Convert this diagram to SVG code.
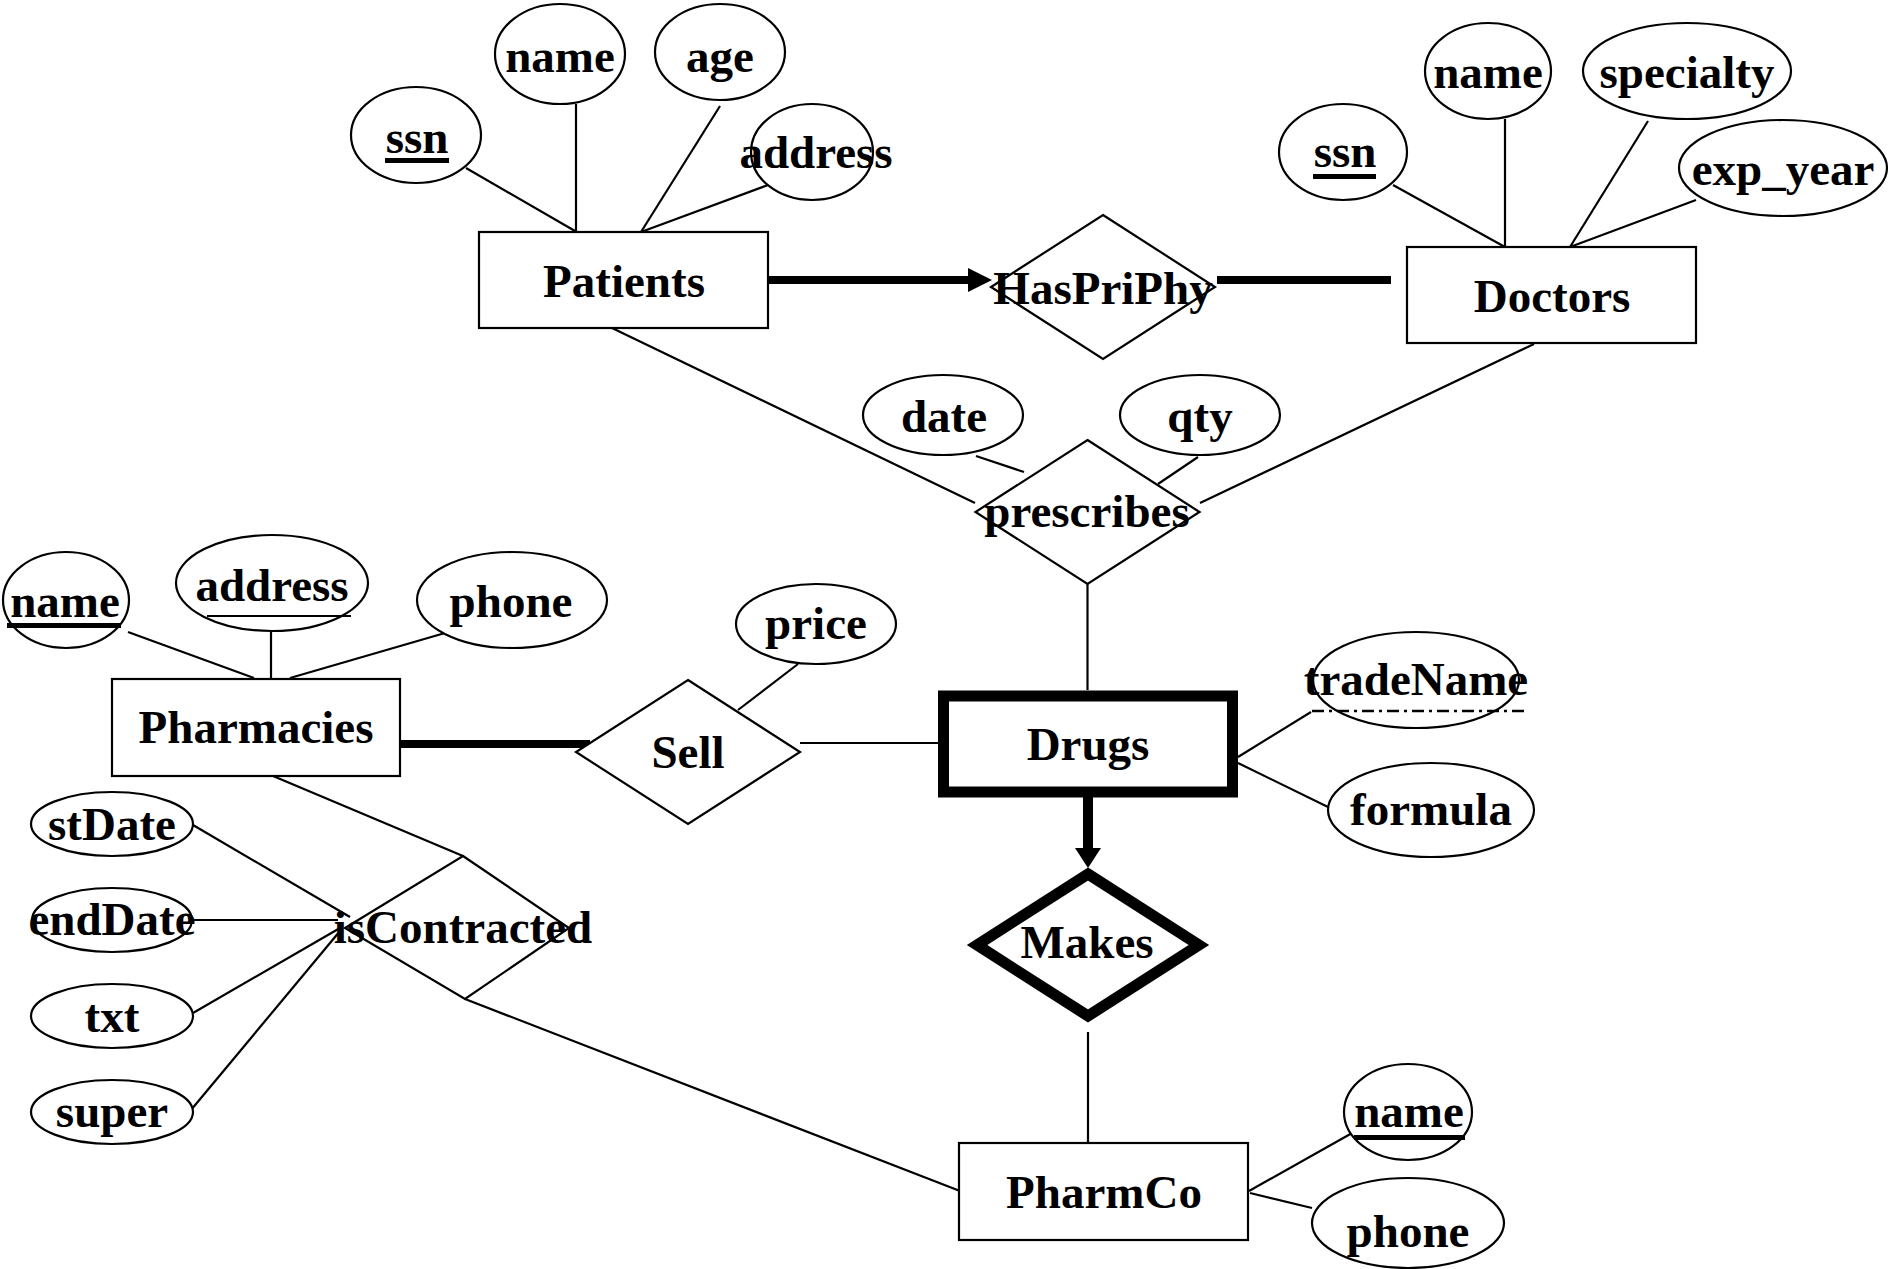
<svg xmlns="http://www.w3.org/2000/svg" width="1890" height="1269" viewBox="0 0 1890 1269">
  <style>
    text { font-family: "Liberation Serif", "Times New Roman", serif; font-weight: bold; font-size: 47px; fill: #000; text-anchor: middle; }
    .shape { fill: #fff; stroke: #000; stroke-width: 2.2; }
    .weak { fill: #fff; stroke: #000; stroke-width: 11; stroke-linejoin: miter; }
    .link { stroke: #000; stroke-width: 2.2; fill: none; }
    .thick { stroke: #000; stroke-width: 8; fill: none; }
    .key { stroke: #000; stroke-width: 5; }
    .partial { stroke: #000; stroke-width: 2.5; stroke-dasharray: 12 5 3 5; }
    .thin-key { stroke: #000; stroke-width: 2; }
  </style>
  <rect x="0" y="0" width="1890" height="1269" fill="#fff"/>

  <!-- connectors -->
  <g id="connectors">
    <!-- Patients attributes -->
    <line class="link" x1="466" y1="168" x2="575" y2="231"/>
    <line class="link" x1="576" y1="104" x2="576" y2="232"/>
    <line class="link" x1="720" y1="106" x2="641" y2="232"/>
    <line class="link" x1="768" y1="185" x2="641" y2="232"/>
    <!-- Doctors attributes -->
    <line class="link" x1="1393" y1="185" x2="1505" y2="247"/>
    <line class="link" x1="1505" y1="119" x2="1505" y2="247"/>
    <line class="link" x1="1648" y1="121" x2="1570" y2="247"/>
    <line class="link" x1="1696" y1="200" x2="1570" y2="247"/>
    <!-- HasPriPhy -->
    <line class="thick" x1="768" y1="280" x2="970" y2="280"/>
    <polygon points="968,268 992,280 968,292" fill="#000"/>
    <line class="thick" x1="1217" y1="280" x2="1391" y2="280"/>
    <!-- prescribes -->
    <line class="link" x1="612" y1="328" x2="975" y2="503"/>
    <line class="link" x1="1534" y1="344" x2="1200" y2="503"/>
    <line class="link" x1="976" y1="456" x2="1024" y2="472"/>
    <line class="link" x1="1198" y1="457" x2="1158" y2="484"/>
    <line class="link" x1="1087.5" y1="584" x2="1087.5" y2="690"/>
    <!-- Drugs attributes -->
    <line class="link" x1="1238" y1="757" x2="1311" y2="712"/>
    <line class="link" x1="1238" y1="763" x2="1328" y2="807"/>
    <!-- Makes -->
    <line stroke="#000" stroke-width="10" x1="1088" y1="797" x2="1088" y2="850"/>
    <polygon points="1075,848 1101,848 1088,868" fill="#000"/>
    <line class="link" x1="1088" y1="1032" x2="1088" y2="1143"/>
    <!-- PharmCo attributes -->
    <line class="link" x1="1249" y1="1191" x2="1361" y2="1128"/>
    <line class="link" x1="1250" y1="1193" x2="1312" y2="1208"/>
    <!-- Pharmacies attributes -->
    <line class="link" x1="128" y1="632" x2="254" y2="678"/>
    <line class="link" x1="271" y1="632" x2="271" y2="678"/>
    <line class="link" x1="445" y1="633" x2="290" y2="678"/>
    <!-- Sell -->
    <line class="thick" x1="400" y1="744" x2="590" y2="744"/>
    <line class="link" x1="800" y1="743" x2="939" y2="743"/>
    <line class="link" x1="798" y1="664" x2="738" y2="710"/>
    <!-- isContracted -->
    <line class="link" x1="273" y1="776" x2="463" y2="856"/>
    <line class="link" x1="465" y1="999" x2="960" y2="1191"/>
    <line class="link" x1="193" y1="825" x2="350" y2="917"/>
    <line class="link" x1="193" y1="920" x2="338" y2="920"/>
    <line class="link" x1="193" y1="1013" x2="340" y2="928"/>
    <line class="link" x1="191" y1="1110" x2="340" y2="931"/>
  </g>

  <!-- entities -->
  <g id="patients">
    <rect class="shape" x="479" y="232" width="289" height="96"/>
    <text x="624" y="297">Patients</text>
  </g>
  <g id="doctors">
    <rect class="shape" x="1407" y="247" width="289" height="96"/>
    <text x="1552" y="312">Doctors</text>
  </g>
  <g id="drugs">
    <rect class="weak" x="943.5" y="696" width="289" height="96"/>
    <text x="1088" y="760">Drugs</text>
  </g>
  <g id="pharmacies">
    <rect class="shape" x="112" y="679" width="288" height="97"/>
    <text x="256" y="743">Pharmacies</text>
  </g>
  <g id="pharmco">
    <rect class="shape" x="959" y="1143" width="289" height="97"/>
    <text x="1104" y="1208">PharmCo</text>
  </g>

  <!-- relationships -->
  <g id="haspriphy">
    <polygon class="shape" points="1103,215 1215,287 1103,359 991,287"/>
    <text x="1103" y="304">HasPriPhy</text>
  </g>
  <g id="prescribes">
    <polygon class="shape" points="1087.5,440 1199.5,512 1087.5,584 975.5,512"/>
    <text x="1087" y="527">prescribes</text>
  </g>
  <g id="sell">
    <polygon class="shape" points="688,680 800,752 688,824 576,752"/>
    <text x="688" y="768">Sell</text>
  </g>
  <g id="makes">
    <polygon class="weak" points="1088,874 1199,945 1088,1016 977,945"/>
    <text x="1087" y="958">Makes</text>
  </g>
  <g id="iscontracted">
    <polygon class="shape" points="463,856 569,928 465,999 345,928"/>
    <text x="463" y="943">isContracted</text>
  </g>

  <!-- attributes -->
  <g id="patients-ssn">
    <ellipse class="shape" cx="416" cy="135" rx="65" ry="48"/>
    <text x="417" y="153">ssn</text>
    <line class="key" x1="385" y1="160.5" x2="449" y2="160.5"/>
  </g>
  <g id="patients-name">
    <ellipse class="shape" cx="560" cy="54" rx="65" ry="50"/>
    <text x="560" y="72">name</text>
  </g>
  <g id="patients-age">
    <ellipse class="shape" cx="720" cy="52" rx="65" ry="48"/>
    <text x="720" y="72">age</text>
  </g>
  <g id="patients-address">
    <ellipse class="shape" cx="812" cy="152" rx="61" ry="48"/>
    <text x="816" y="168">address</text>
  </g>

  <g id="doctors-ssn">
    <ellipse class="shape" cx="1343" cy="152" rx="64" ry="48"/>
    <text x="1345" y="167">ssn</text>
    <line class="key" x1="1313" y1="176.5" x2="1376" y2="176.5"/>
  </g>
  <g id="doctors-name">
    <ellipse class="shape" cx="1488" cy="71" rx="63" ry="48"/>
    <text x="1488" y="88">name</text>
  </g>
  <g id="doctors-specialty">
    <ellipse class="shape" cx="1687" cy="71" rx="104" ry="48"/>
    <text x="1687" y="88">specialty</text>
  </g>
  <g id="doctors-exp-year">
    <ellipse class="shape" cx="1783" cy="168" rx="104" ry="48"/>
    <text x="1783" y="185">exp_year</text>
  </g>

  <g id="prescribes-date">
    <ellipse class="shape" cx="943" cy="415" rx="80" ry="40"/>
    <text x="944" y="432">date</text>
  </g>
  <g id="prescribes-qty">
    <ellipse class="shape" cx="1200" cy="415" rx="80" ry="40"/>
    <text x="1200" y="432">qty</text>
  </g>

  <g id="drugs-tradename">
    <ellipse class="shape" cx="1416" cy="680" rx="103" ry="48"/>
    <text x="1416" y="695">tradeName</text>
    <line class="partial" x1="1312" y1="711" x2="1528" y2="711"/>
  </g>
  <g id="drugs-formula">
    <ellipse class="shape" cx="1431" cy="810" rx="103" ry="47"/>
    <text x="1431" y="825">formula</text>
  </g>

  <g id="pharmco-name">
    <ellipse class="shape" cx="1408" cy="1112" rx="64" ry="48"/>
    <text x="1409" y="1127">name</text>
    <line class="key" x1="1354" y1="1137.5" x2="1465" y2="1137.5"/>
  </g>
  <g id="pharmco-phone">
    <ellipse class="shape" cx="1408" cy="1223" rx="96" ry="45"/>
    <text x="1408" y="1247">phone</text>
  </g>

  <g id="pharmacies-name">
    <ellipse class="shape" cx="66" cy="600" rx="63" ry="48"/>
    <text x="65" y="617">name</text>
    <line class="key" x1="7" y1="625.5" x2="121" y2="625.5"/>
  </g>
  <g id="pharmacies-address">
    <ellipse class="shape" cx="272" cy="583" rx="96" ry="48"/>
    <text x="272" y="601">address</text>
    <line class="thin-key" x1="207" y1="616" x2="351" y2="616"/>
  </g>
  <g id="pharmacies-phone">
    <ellipse class="shape" cx="512" cy="600" rx="95" ry="48"/>
    <text x="511" y="617">phone</text>
  </g>

  <g id="sell-price">
    <ellipse class="shape" cx="816" cy="624" rx="80" ry="40"/>
    <text x="816" y="639">price</text>
  </g>

  <g id="contract-stdate">
    <ellipse class="shape" cx="112" cy="824" rx="81" ry="32"/>
    <text x="112" y="840">stDate</text>
  </g>
  <g id="contract-enddate">
    <ellipse class="shape" cx="112" cy="920" rx="80" ry="32"/>
    <text x="112" y="935">endDate</text>
  </g>
  <g id="contract-txt">
    <ellipse class="shape" cx="112" cy="1016" rx="81" ry="32"/>
    <text x="112" y="1032">txt</text>
  </g>
  <g id="contract-super">
    <ellipse class="shape" cx="112" cy="1112" rx="81" ry="32"/>
    <text x="112" y="1127">super</text>
  </g>
</svg>
